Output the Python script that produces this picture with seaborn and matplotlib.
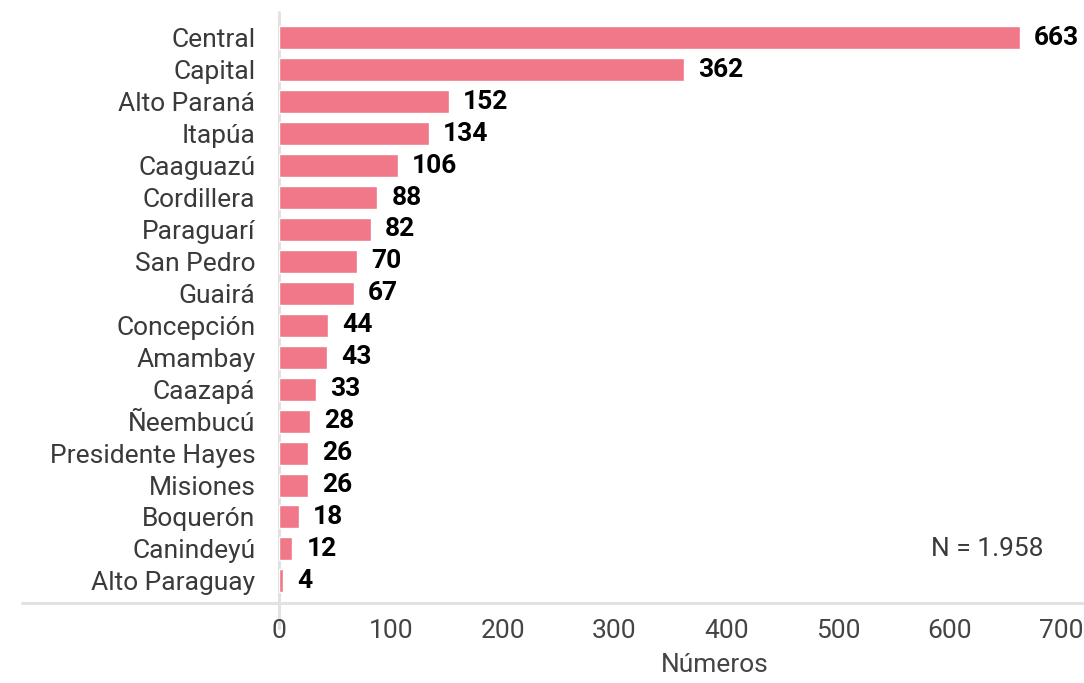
import matplotlib
matplotlib.use("Agg")
import matplotlib.pyplot as plt
import seaborn as sns
import pandas as pd

# Data
departamentos = [
    "Central", "Capital", "Alto Paraná", "Itapúa", "Caaguazú", "Cordillera",
    "Paraguarí", "San Pedro", "Guairá", "Concepción", "Amambay", "Caazapá",
    "Ñeembucú", "Presidente Hayes", "Misiones", "Boquerón", "Canindeyú",
    "Alto Paraguay",
]
numeros = [663, 362, 152, 134, 106, 88, 82, 70, 67, 44, 43, 33, 28, 26, 26, 18, 12, 4]
x_ticks = [0, 100, 200, 300, 400, 500, 600, 700]
total_label = "N = 1.958"

df = pd.DataFrame({"Departamento": departamentos, "Números": numeros})

sns.set_theme(style="white")
plt.rcParams["font.family"] = ["Roboto", "DejaVu Sans"]

BAR_COLOR = "#f07889"
LINE_COLOR = "#e2e2e2"
TEXT_COLOR = "#3a3a3a"
FS = 19

fig = plt.figure(figsize=(10.84, 6.83), dpi=100)
ax = fig.add_axes([0.2574, 0.0981, 0.7426, 0.8839])

sns.barplot(data=df, y="Departamento", x="Números", color=BAR_COLOR,
            saturation=1, width=0.72, orient="h", ax=ax)

ax.bar_label(ax.containers[0], labels=[str(v) for v in numeros], padding=10,
             fontsize=FS, fontweight="bold", color="black")

ax.set_xlim(0, 720)
ax.set_ylim(18.1, -0.8)
ax.set_xticks(x_ticks)
ax.tick_params(axis="x", length=0, pad=2, labelsize=FS, labelcolor="#444444")
ax.tick_params(axis="y", length=0, pad=17, labelsize=FS, labelcolor=TEXT_COLOR)

ax.set_ylabel("")
ax.set_xlabel("Números", fontsize=FS, color="#444444")
ax.xaxis.set_label_coords(0.5416, -0.062)

for side in ["top", "right", "bottom", "left"]:
    ax.spines[side].set_visible(False)

# light vertical line at zero and horizontal base line running under labels
ax.axvline(0, ymin=-0.02, ymax=1.0, color=LINE_COLOR, lw=2.2, clip_on=False, zorder=0)
ax.axhline(17.69, xmin=-0.319, xmax=1.0, color=LINE_COLOR, lw=2.2,
           clip_on=False, zorder=0)

ax.text(0.95, 16.0, total_label, transform=ax.get_yaxis_transform(),
        ha="right", va="center", fontsize=FS, color=TEXT_COLOR)

fig.savefig("out.png", dpi=100)
